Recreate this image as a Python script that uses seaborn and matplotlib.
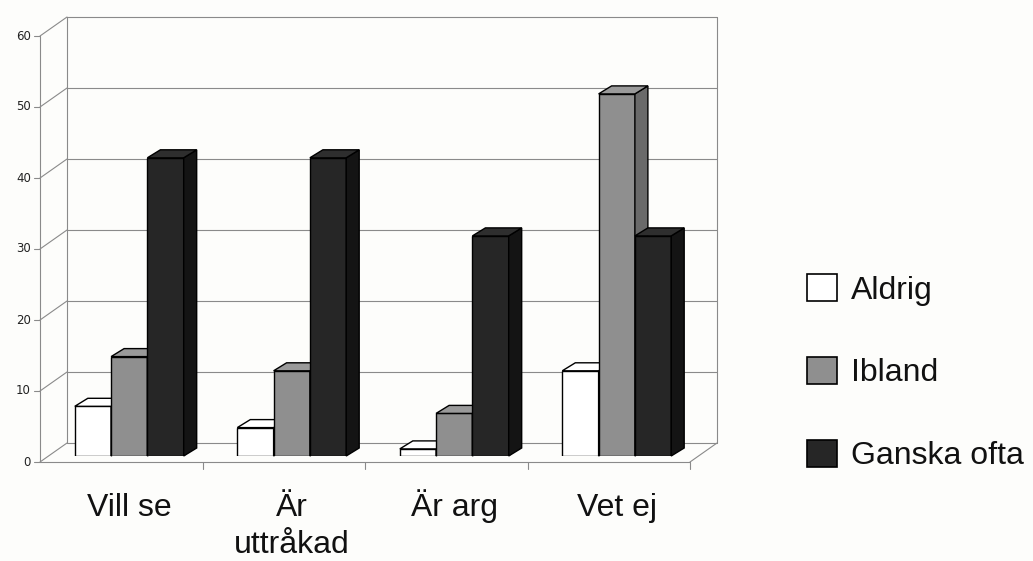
import matplotlib
matplotlib.use('Agg')
import matplotlib.pyplot as plt
from matplotlib.patches import Polygon, Patch
from matplotlib.colors import to_hex
import numpy as np
import pandas as pd
import seaborn as sns

sns.set_style('white')
plt.rcParams['font.family'] = ['Liberation Sans', 'DejaVu Sans']

# data
categories = ['Vill se', 'Är\nuttråkad', 'Är arg', 'Vet ej']
series = ['Aldrig', 'Ibland', 'Ganska ofta']
aldrig = [7, 4, 1, 12]
ibland = [14, 12, 6, 51]
ganska_ofta = [42, 42, 31, 31]
y_ticks = [0, 10, 20, 30, 40, 50, 60]

# front, top, side shades per series
front_colors = {'Aldrig': '#ffffff', 'Ibland': '#8f8f8f', 'Ganska ofta': '#262626'}
top_colors = {'Aldrig': '#ffffff', 'Ibland': '#9a9a9a', 'Ganska ofta': '#2e2e2e'}
side_colors = {'Aldrig': '#ffffff', 'Ibland': '#6a6a6a', 'Ganska ofta': '#141414'}

W, H = 1033, 561
fig = plt.figure(figsize=(W / 100, H / 100), dpi=100)
fig.patch.set_facecolor('#fdfdfb')
ax = fig.add_axes([48 / W, (H - 456) / H, 650 / W, 426 / H])

df = pd.DataFrame({
    'kategori': categories * 3,
    'svar': np.repeat(series, len(categories)),
    'andel': aldrig + ibland + ganska_ofta,
})

sns.barplot(data=df, x='kategori', y='andel', hue='svar', hue_order=series,
            palette=front_colors, saturation=1, width=0.67, errorbar=None,
            edgecolor='black', linewidth=1.0, legend=False, ax=ax)

ax.set_xlim(-0.5, 3.5)
ax.set_ylim(0, 60)
ax.axis('off')
ax.patch.set_alpha(0)

# pixel -> data offsets
sx = 4 / 650
sy = 60 / 426


def shift(px, py):
    return px * sx, py * sy


# pseudo 3d faces on the bars
lookup = {to_hex(front_colors[s]): s for s in series}
bars = sorted(ax.patches, key=lambda p: p.get_x())
dx, dy = shift(13, 8)
for k, p in enumerate(bars):
    name = lookup[to_hex(p.get_facecolor())]
    x0, y0, w, h = p.get_x(), p.get_y(), p.get_width(), p.get_height()
    p.set_zorder(10 + 3 * k)
    top = Polygon([(x0, h), (x0 + w, h), (x0 + w + dx, h + dy), (x0 + dx, h + dy)],
                  facecolor=top_colors[name], edgecolor='black', lw=1.0,
                  zorder=11 + 3 * k, clip_on=False)
    side = Polygon([(x0 + w, y0), (x0 + w + dx, y0 + dy), (x0 + w + dx, h + dy), (x0 + w, h)],
                   facecolor=side_colors[name], edgecolor='black', lw=1.0,
                   zorder=11 + 3 * k, clip_on=False)
    ax.add_patch(side)
    ax.add_patch(top)

# walls
grid = dict(color='#8a8a8a', lw=0.8, clip_on=False, zorder=1)
bx, by = shift(19, 13)
fx, fy = shift(-8, -6)
for v in y_ticks:
    ax.plot([-0.5 + bx, 3.5 + bx], [v + by, v + by], **grid)
    ax.plot([-0.5 + fx, -0.5 + bx], [v + fy, v + by], **grid)
    ax.plot([-0.5 + fx - 6 * sx, -0.5 + fx], [v + fy, v + fy], **grid)
    ax.text(-0.5 + fx - 9 * sx, v + fy, str(v), ha='right', va='center',
            fontsize=8.5, color='#222222', family='DejaVu Sans')
ax.plot([-0.5 + bx] * 2, [by, 60 + by], **grid)
ax.plot([3.5 + bx] * 2, [by, 60 + by], **grid)
ax.plot([-0.5 + fx] * 2, [fy, 60 + fy], **grid)
ax.plot([-0.5 + fx, 3.5 + fx], [fy, fy], **grid)
ax.plot([3.5 + fx, 3.5 + bx], [fy, by], **grid)
for b in [0.5, 1.5, 2.5, 3.5]:
    ax.plot([b + fx] * 2, [fy, fy - 7 * sy], **grid)

# category labels, one text per line so every first line shares a baseline
for i, label in enumerate(categories):
    for j, line in enumerate(label.split('\n')):
        ax.text(i, (-60 - 37 * j) * sy, line, ha='center', va='baseline',
                fontsize=23, color='#111111')

handles = [Patch(facecolor=front_colors[s], edgecolor='black', lw=1.2, label=s)
           for s in series]
fig.legend(handles=handles, loc='upper left', bbox_to_anchor=(807 / W, 1 - 274 / H),
           frameon=False, fontsize=23, handlelength=0.94, handleheight=0.94,
           handletextpad=0.45, labelspacing=1.60, borderpad=0, borderaxespad=0,
           labelcolor='#111111')

fig.savefig('out.png', dpi=100, facecolor=fig.get_facecolor())
